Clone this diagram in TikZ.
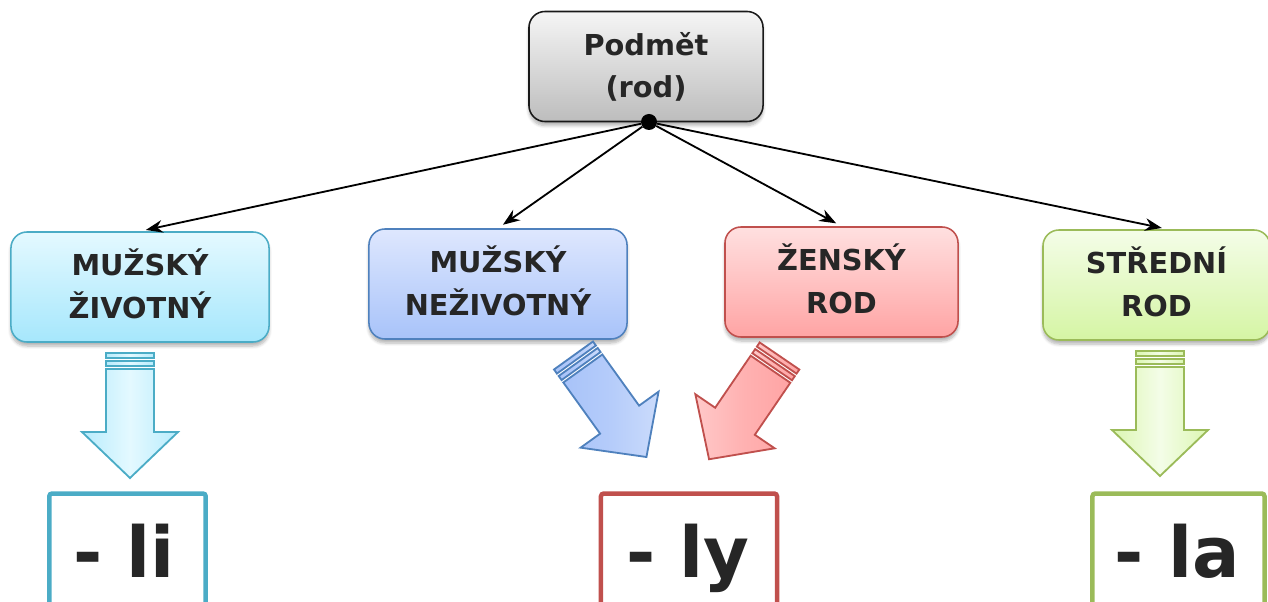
\documentclass[tikz,border=0pt]{standalone}
\usepackage{fontspec}
\setmainfont{DejaVu Sans}
\usetikzlibrary{arrows.meta,shadows.blur}

\definecolor{txt}{HTML}{262626}
\definecolor{cyanbd}{HTML}{4BACC6}
\definecolor{bluebd}{HTML}{4F81BD}
\definecolor{redbd}{HTML}{C0504D}
\definecolor{greenbd}{HTML}{9BBB59}
\definecolor{graytop}{HTML}{F5F5F5}
\definecolor{graybot}{HTML}{BDBDBD}
\definecolor{cyantop}{HTML}{E4F9FF}
\definecolor{cyanbot}{HTML}{A6E7FC}
\definecolor{bluetop}{HTML}{DEE7FE}
\definecolor{bluebot}{HTML}{A8C3F9}
\definecolor{redtop}{HTML}{FFE0E0}
\definecolor{redbot}{HTML}{FFA4A4}
\definecolor{greentop}{HTML}{F4FDE8}
\definecolor{greenbot}{HTML}{D5F5A4}

\tikzset{
  rodbox/.style={draw, rounded corners=0.4cm, line width=1.1pt, minimum height=2.75cm,
    align=center, text=txt, font=\bfseries\fontsize{20.5}{30}\selectfont,
    text height=1.55cm, text depth=0pt,
    blur shadow={shadow xshift=0pt, shadow yshift=-0.1cm, shadow opacity=30, shadow blur steps=6}},
  conn/.style={-{Stealth[length=12pt,width=9pt]}, line width=1.3pt, shorten >=0.15cm},
  sufbox/.style={draw, line width=3.2pt, rounded corners=2pt, outer sep=0pt,
    minimum width=3.91cm, minimum height=4cm, anchor=north},
  suftext/.style={text=txt, font=\bfseries\fontsize{50}{60}\selectfont, anchor=base, inner sep=0pt},
  cyanarr/.style={draw=cyanbd, line width=1.3pt, left color=cyanbot!80!white, right color=cyanbot!80!white, middle color=cyantop},
  bluearr/.style={draw=bluebd, line width=1.3pt, left color=bluebot, right color=bluebot!60!white, middle color=bluebot!85!white},
  redarr/.style={draw=redbd, line width=1.3pt, left color=redbot!60!white, right color=redbot, middle color=redbot!85!white},
  greenarr/.style={draw=greenbd, line width=1.3pt, left color=greenbot!85!white, right color=greenbot!85!white, middle color=greentop},
  pics/fatarrow/.style={code={
    \draw[#1] (-24,16) -- (-24,79) -- (-48,79) -- (0,125) -- (48,79) -- (24,79) -- (24,16) -- cycle;
    \draw[#1] (-24,0) rectangle (24,5);
    \draw[#1] (-24,8) rectangle (24,13);
  }},
}

\begin{document}
\begin{tikzpicture}[x=0.025cm, y=-0.025cm]
 \useasboundingbox (0,0) rectangle (1268,602);
 \clip (0,0) rectangle (1268,602);

 % top
 \node[rodbox, draw=black!90, minimum width=5.85cm, top color=graytop, bottom color=graybot] (top) at (646,66.5) {Podmět\\(rod)};
 \node[circle, fill=black, inner sep=0pt, minimum size=0.4cm] (dot) at (649,122) {};

 % rody
 \node[rodbox, draw=cyanbd, minimum width=6.45cm, top color=cyantop, bottom color=cyanbot] (mzivot) at (140,287) {MUŽSKÝ\\ŽIVOTNÝ};
 \node[rodbox, draw=bluebd, minimum width=6.45cm, top color=bluetop, bottom color=bluebot] (mnezivot) at (498,284) {MUŽSKÝ\\NEŽIVOTNÝ};
 \node[rodbox, draw=redbd, minimum width=5.825cm, top color=redtop, bottom color=redbot] (zensky) at (841.5,282) {ŽENSKÝ\\ROD};
 \node[rodbox, draw=greenbd, minimum width=5.675cm, top color=greentop, bottom color=greenbot] (stredni) at (1156.5,285) {STŘEDNÍ\\ROD};

 \draw[conn] (dot) -- (mzivot.north);
 \draw[conn] (dot) -- (mnezivot.north);
 \draw[conn] (dot) -- (zensky.north);
 \draw[conn] (dot) -- ([xshift=0.28cm]stredni.north);

 % sipky
 \pic at (130,353) {fatarrow=cyanarr};
 \pic[rotate=35.7] at (573.5,355.5) {fatarrow=bluearr};
 \pic[rotate=-34.3] at (779.5,356) {fatarrow=redarr};
 \pic at (1160,351) {fatarrow=greenarr};

 % koncovky
 \node[sufbox, draw=cyanbd] (sli) at (127.5,493.5) {};
 \node[sufbox, draw=redbd, minimum width=4.4cm] (sly) at (689,493.5) {};
 \node[sufbox, draw=greenbd, minimum width=4.3cm] (sla) at (1178.5,493.5) {};
 \node[suftext] (tli) at (124,577) {- li};
 \node[suftext] (tly) at (688,577) {- ly};
 \node[suftext] (tla) at (1177,577) {- la};
\end{tikzpicture}
\end{document}
